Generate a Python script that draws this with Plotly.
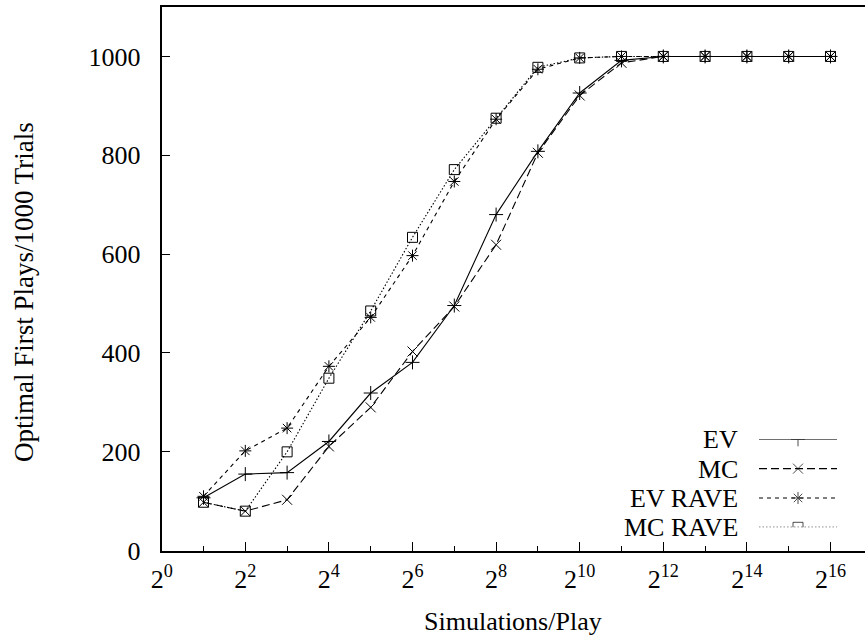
import plotly.graph_objects as go

# ---- data ----
exponents = list(range(1, 17))
sims = [2 ** k for k in exponents]
ev = [107, 155, 158, 221, 319, 381, 496, 680, 808, 926, 992, 1000, 1000, 1000, 1000, 1000]
mc = [98, 80, 103, 211, 290, 403, 494, 619, 805, 921, 987, 1000, 1000, 1000, 1000, 1000]
ev_rave = [110, 202, 248, 373, 472, 597, 747, 873, 974, 997, 1000, 1000, 1000, 1000, 1000, 1000]
mc_rave = [98, 80, 200, 349, 485, 634, 771, 875, 978, 997, 1000, 1000, 1000, 1000, 1000, 1000]
series_names = ["EV", "MC", "EV RAVE", "MC RAVE"]
x_major_exp = list(range(0, 17, 2))
x_minor_exp = list(range(1, 17, 2))
y_ticks = [0, 200, 400, 600, 800, 1000]

# ---- styles ----
W, H = 865, 641
FONT = "Liberation Serif"
styles = [
    dict(dash="solid", symbol="cross-thin"),
    dict(dash="8px,4px", symbol="x-thin"),
    dict(dash="4px,4px", symbol="asterisk"),
    dict(dash="1.5px,2px", symbol="square-open"),
]
data = [ev, mc, ev_rave, mc_rave]

# plot area in pixels
L, R, T, B = 161.7, 865.0, 7.0, 550.7
px_per_exp = 41.8
x_max_exp = (R - L) / px_per_exp
LOG2 = 0.30102999566

fig = go.Figure()
for name, vals, st in zip(series_names, data, styles):
    fig.add_trace(go.Scatter(
        x=sims, y=vals, name=name, mode="lines+markers",
        line=dict(color="black", width=1.1, dash=st["dash"]),
        marker=dict(symbol=st["symbol"], size=10, color="black",
                    line=dict(color="black", width=1)),
        showlegend=False, xaxis="x", yaxis="y",
    ))

# legend keys (gnuplot style: text left, sample right)
leg_rows_y = [439.3, 469.0, 498.3, 527.3]
leg_x0, leg_x1, leg_text_x = 759.0, 837.0, 740.0
for i, (name, st) in enumerate(zip(series_names, styles)):
    fig.add_trace(go.Scatter(
        x=[0, 0.5, 1], y=[i, i, i], mode="lines+markers",
        line=dict(color="black", width=1.1, dash=st["dash"]),
        marker=dict(symbol=st["symbol"], size=[0, 10, 0], color="black",
                    line=dict(color="black", width=1)),
        showlegend=False, xaxis="x2", yaxis="y2", hoverinfo="skip",
    ))
    fig.add_annotation(
        text=name, xref="paper", yref="paper",
        x=leg_text_x / W, y=1 - leg_rows_y[i] / H,
        xanchor="right", yanchor="middle", showarrow=False,
        font=dict(family=FONT, size=26, color="black"),
    )

axis_font = dict(family=FONT, size=26, color="black")
fig.update_layout(
    width=W, height=H,
    margin=dict(l=0, r=0, t=0, b=0),
    paper_bgcolor="white", plot_bgcolor="white",
    showlegend=False,
    xaxis=dict(
        type="log", domain=[L / W, R / W],
        range=[0, x_max_exp * LOG2],
        tickvals=[2 ** k for k in x_major_exp],
        ticktext=[f"2<sup>{k}</sup>" for k in x_major_exp],
        ticks="inside", ticklen=9, tickwidth=1, tickcolor="black",
        minor=dict(tickvals=[2 ** k for k in x_minor_exp], ticks="inside",
                   ticklen=5, tickwidth=1, tickcolor="black", showgrid=False),
        showline=True, linewidth=2, linecolor="black", mirror=True,
        showgrid=False, zeroline=False, tickfont=axis_font,
        automargin=False, anchor="y", ticklabelstandoff=4,
    ),
    yaxis=dict(
        domain=[1 - B / H, 1 - T / H], range=[0, 1100],
        tickvals=y_ticks, ticks="inside", ticklen=8, tickwidth=1,
        tickcolor="black", showline=True, linewidth=2, linecolor="black",
        showgrid=False, zeroline=False, tickfont=axis_font,
        automargin=False, anchor="x", ticklabelstandoff=14,
    ),
    yaxis3=dict(
        overlaying="y", side="right", anchor="x", range=[0, 1100],
        tickvals=y_ticks, ticks="inside", ticklen=2, tickwidth=1,
        tickcolor="#999", showticklabels=False, showline=False,
        showgrid=False, zeroline=False,
    ),
    xaxis2=dict(domain=[leg_x0 / W, leg_x1 / W], range=[0, 1], visible=False,
                anchor="y2"),
    yaxis2=dict(domain=[1 - leg_rows_y[3] / H, 1 - leg_rows_y[0] / H],
                range=[3, 0], visible=False, anchor="x2"),
)

# axis titles
fig.add_annotation(
    text="Simulations/Play", xref="paper", yref="paper",
    x=(L + R) / 2 / W, y=1 - 621 / H, xanchor="center", yanchor="middle",
    showarrow=False, font=axis_font,
)
fig.add_annotation(
    text="Optimal First Plays/1000 Trials", xref="paper", yref="paper",
    x=24 / W, y=1 - 292 / H, xanchor="center", yanchor="middle",
    textangle=-90, showarrow=False, font=dict(family=FONT, size=27, color="black"),
)

fig.write_html("out.html")
